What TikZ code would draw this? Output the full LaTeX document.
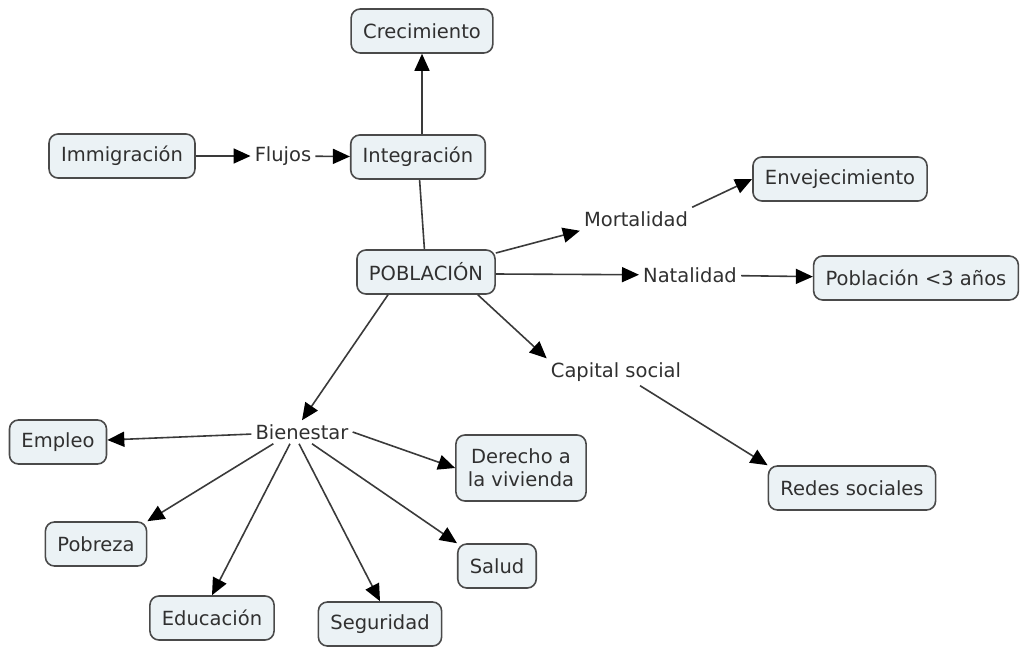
\documentclass[tikz,border=0pt]{standalone}
\usepackage{fontspec}
\setmainfont{DejaVu Sans}
\usetikzlibrary{arrows.meta}
\definecolor{boxfill}{HTML}{EBF2F5}
\definecolor{boxline}{HTML}{4A4A4A}
\definecolor{inktext}{HTML}{303030}
\definecolor{linkline}{HTML}{3A3A3A}
\begin{document}
\begin{tikzpicture}[x=1pt,y=-1pt,
  font=\fontsize{19.5}{23}\selectfont, text=inktext,
  concept/.style={draw=boxline, line width=1.6pt, fill=boxfill, rounded corners=9pt,
    inner xsep=12pt, minimum height=44pt, align=center},
  linkword/.style={inner sep=4pt, fill=white},
  link/.style={draw=linkline, line width=1.6pt,
    -{Triangle[length=17pt,width=15pt,color=black]}},
  plain/.style={draw=linkline, line width=1.6pt}]
\useasboundingbox (0,0) rectangle (1022,646);

% concepts
\node[concept] (crec) at (422,31) {Crecimiento};
\node[concept] (inmi) at (122,156) {Immigración};
\node[concept] (integ) at (418,157) {Integración};
\node[concept] (envej) at (840,179) {Envejecimiento};
\node[concept] (pobl) at (426,272) {POBLACIÓN};
\node[concept] (menor) at (916,278) {Población <3 años};
\node[concept] (redes) at (852,488) {Redes sociales};
\node[concept] (empleo) at (58,442) {Empleo};
\node[concept, minimum height=66pt] (derecho) at (521,468) {Derecho a\\la vivienda};
\node[concept] (pobreza) at (96,544) {Pobreza};
\node[concept] (salud) at (497,566) {Salud};
\node[concept] (educ) at (212,618) {Educación};
\node[concept] (segur) at (380,624) {Seguridad};

% linking phrases
\node[linkword] (flujos) at (283,156) {Flujos};
\node[linkword] (mort) at (636,219) {Mortalidad};
\node[linkword] (nat) at (690,275) {Natalidad};
\node[linkword] (capital) at (616,372) {Capital social};
\node[linkword] (bien) at (302,432) {Bienestar};

% connectors
\draw[link] (inmi) -- (flujos);
\draw[link] (flujos) -- (integ);
\draw[link] (integ.north -| crec.south) -- (crec.south);
\draw[plain] (integ) -- (pobl);
\draw[link] (pobl.east |- 0,253) -- (mort.south west);
\draw[link] (mort.north east) -- (envej.west);
\draw[link] (pobl.east |- 0,274) -- (nat);
\draw[link] (nat) -- (menor);
\draw[link] (pobl.south east) ++(-18,0) -- (capital.north west) ;
\draw[link] (capital.south) ++(24,0) -- (redes.north west);
\draw[link] (pobl.south) ++(-38,0) -- (bien.north);
\draw[link] (bien) -- (empleo);
\draw[link] (bien.south west) ++(22,0) -- (pobreza.north east);
\draw[link] (bien.south) ++(-12,0) -- (educ.north);
\draw[link] (bien.south) ++(-3,0) -- (segur.north);
\draw[link] (bien.south) ++(10,0) -- (salud.north west);
\draw[link] (bien.east) -- (derecho.west);
\end{tikzpicture}
\end{document}
